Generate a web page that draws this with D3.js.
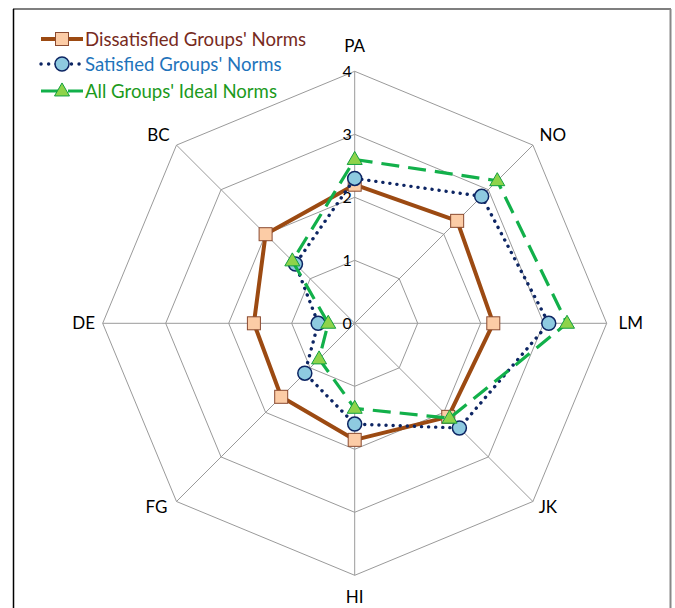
<!DOCTYPE html>
<html><head><meta charset="utf-8">
<script src="https://cdn.jsdelivr.net/npm/d3@7"></script>
<style>
html,body{margin:0;padding:0;background:#fff;}
svg{display:block;font-family:Lato,"Open Sans","Noto Sans",sans-serif;}
</style></head>
<body><svg id="c" width="675" height="608"></svg>
<script>
const categories = ["PA","NO","LM","JK","HI","FG","DE","BC"];
const dissatisfied = [2.2, 2.3, 2.2, 2.1, 1.85, 1.65, 1.6, 2.0];
const satisfied = [2.3, 2.85, 3.08, 2.35, 1.6, 1.12, 0.58, 1.33];
const allIdeal = [2.6, 3.2, 3.37, 2.13, 1.35, 0.8, 0.42, 1.4];
const tickValues = [0,1,2,3,4];
const seriesNames = ["Dissatisfied Groups' Norms","Satisfied Groups' Norms","All Groups' Ideal Norms"];

const svg = d3.select("#c");
const cx = 354.7, cy = 323.3, R = 252;
const r = d3.scaleLinear().domain([0,4]).range([0,R]);
const ang = d3.scaleLinear().domain([0,categories.length]).range([0,2*Math.PI]);
const pt = (i,v) => [cx + r(v)*Math.sin(ang(i)), cy - r(v)*Math.cos(ang(i))];

// frame
svg.append("line").attr("x1",13).attr("y1",9).attr("x2",671).attr("y2",9).attr("stroke","#000").attr("stroke-width",1.2);
svg.append("line").attr("x1",13.5).attr("y1",9).attr("x2",13.5).attr("y2",608).attr("stroke","#000").attr("stroke-width",1.5);
svg.append("line").attr("x1",670.5).attr("y1",9).attr("x2",670.5).attr("y2",608).attr("stroke","#888").attr("stroke-width",2);

const g = svg.append("g");
// grid rings
tickValues.filter(t=>t>0).forEach(t=>{
  g.append("polygon")
   .attr("points", categories.map((c,i)=>pt(i,t).join(",")).join(" "))
   .attr("fill","none").attr("stroke","#9a9a9a").attr("stroke-width",1);
});
// spokes
categories.forEach((c,i)=>{
  const p = pt(i,4);
  g.append("line").attr("x1",cx).attr("y1",cy).attr("x2",p[0]).attr("y2",p[1])
   .attr("stroke","#9a9a9a").attr("stroke-width",1);
});
// tick labels
tickValues.forEach(t=>{
  g.append("text").attr("x",cx-3).attr("y",cy - r(t)).attr("dy","0.36em")
   .attr("text-anchor","end").attr("font-size",16).attr("fill","#000").text(t);
});
// category labels
const labelOff = [ [0,-25], [20,-10], [24,0], [15,5], [0,22], [-20,5], [-19,0], [-18,-10] ];
categories.forEach((c,i)=>{
  const p = pt(i,4);
  g.append("text").attr("x",p[0]+labelOff[i][0]).attr("y",p[1]+labelOff[i][1]).attr("dy","0.36em")
   .attr("text-anchor","middle").attr("font-size",17).attr("fill","#000").text(c);
});

const line = d3.line().curve(d3.curveLinearClosed);
const styles = [
  {data:dissatisfied, stroke:"#9c4a12", width:4, dash:null, cap:"butt", marker:"square", mfill:"#fccca6", mstroke:"#8a4a30", text:"#772b1e"},
  {data:satisfied, stroke:"#0d2563", width:3.4, dash:"0.1,7", cap:"round", marker:"circle", mfill:"#8ecae0", mstroke:"#0d2563", text:"#1f74bb"},
  {data:allIdeal, stroke:"#12b04a", width:3.2, dash:"18,9", cap:"butt", marker:"triangle", mfill:"#8ed34a", mstroke:"#12a040", text:"#1c9a1c"}
];
function drawMarker(sel, type, x, y, s){
  if(type==="square"){
    sel.append("rect").attr("x",x-6.5).attr("y",y-6.5).attr("width",13).attr("height",13)
      .attr("fill",s.mfill).attr("stroke",s.mstroke).attr("stroke-width",1);
  } else if(type==="circle"){
    sel.append("circle").attr("cx",x).attr("cy",y).attr("r",7)
      .attr("fill",s.mfill).attr("stroke",s.mstroke).attr("stroke-width",1.5);
  } else {
    const h=13, w=15;
    sel.append("polygon").attr("points",[[x,y-h*0.62],[x+w/2,y+h*0.38],[x-w/2,y+h*0.38]].map(p=>p.join(",")).join(" "))
      .attr("fill",s.mfill).attr("stroke",s.mstroke).attr("stroke-width",1);
  }
}
styles.forEach(s=>{
  const pts = s.data.map((v,i)=>pt(i,v));
  const p = g.append("path").attr("d",line(pts)).attr("fill","none")
    .attr("stroke",s.stroke).attr("stroke-width",s.width).attr("stroke-linecap",s.cap).attr("stroke-linejoin","round");
  if(s.dash) p.attr("stroke-dasharray",s.dash);
  pts.forEach(q=>drawMarker(g,s.marker,q[0],q[1],s));
});

// legend
const lg = svg.append("g");
const ly = [39, 64, 91];
styles.forEach((s,k)=>{
  const l = lg.append("line").attr("x1",41).attr("x2",83).attr("y1",ly[k]).attr("y2",ly[k])
    .attr("stroke",s.stroke).attr("stroke-width",s.width).attr("stroke-linecap",s.cap);
  if(s.dash) l.attr("stroke-dasharray", k===1 ? "0.1,7.5" : "18,9");
  drawMarker(lg,s.marker,62,ly[k],s);
  lg.append("text").attr("x",85).attr("y",ly[k]).attr("dy","0.36em")
    .attr("font-size",18.6).attr("fill",s.text).text(seriesNames[k]);
});
</script></body></html>
